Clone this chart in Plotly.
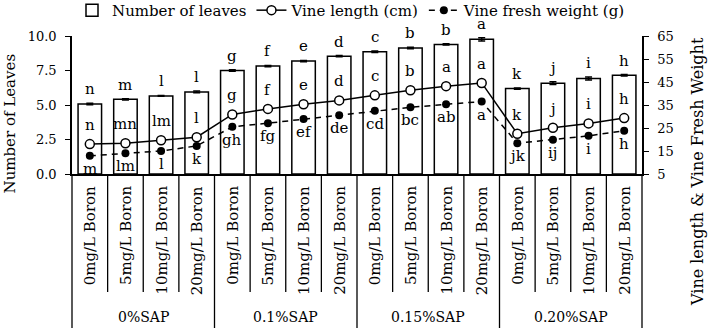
import plotly.graph_objects as go

# ---- data ----
sap_groups = ["0%SAP", "0.1%SAP", "0.15%SAP", "0.20%SAP"]
boron_levels = ["0mg/L Boron", "5mg/L Boron", "10mg/L Boron", "20mg/L Boron"]

leaves = [5.07, 5.41, 5.66, 5.95, 7.50, 7.82, 8.18, 8.54,
          8.86, 9.13, 9.39, 9.76, 6.19, 6.58, 6.92, 7.16]
leaves_err = [0.06, 0.05, 0.03, 0.06, 0.06, 0.05, 0.05, 0.04,
              0.06, 0.05, 0.04, 0.12, 0.04, 0.10, 0.10, 0.05]
vine_length = [18.0, 18.4, 19.7, 21.0, 30.9, 33.3, 35.3, 37.0,
               39.2, 41.4, 43.2, 44.6, 22.5, 25.1, 27.0, 29.3]
fresh_weight = [12.9, 14.0, 15.0, 17.2, 25.5, 27.1, 28.9, 30.5,
                32.5, 34.0, 35.3, 36.5, 18.4, 19.9, 21.6, 23.8]

letters_leaves = ["n", "m", "l", "l", "g", "f", "e", "d",
                  "c", "b", "b", "a", "k", "j", "i", "h"]
letters_length = ["n", "mn", "lm", "l", "g", "f", "e", "d",
                  "c", "b", "a", "a", "k", "j", "i", "h"]
letters_weight = ["m", "lm", "l", "k", "gh", "fg", "ef", "de",
                  "cd", "bc", "ab", "a", "jk", "ij", "i", "h"]

left_ticks = [0, 2.5, 5, 7.5, 10]
right_ticks = [5, 15, 25, 35, 45, 55, 65]

FONT = "DejaVu Serif"

categories = [(s, b) for s in sap_groups for b in boron_levels]
xpos = list(range(len(categories)))

fig = go.Figure()
fig.add_trace(go.Bar(
    x=xpos, y=leaves, name="Number of leaves", width=0.66,
    marker=dict(color="white", line=dict(color="black", width=1.5)),
    error_y=dict(type="data", array=leaves_err, color="black", thickness=1.5, width=3.5),
))
fig.add_trace(go.Scatter(
    x=xpos, y=vine_length, name="Vine length (cm)", yaxis="y2", mode="lines+markers",
    line=dict(color="black", width=1.5),
    marker=dict(symbol="circle", size=9, color="white", line=dict(color="black", width=1.5)),
))
fig.add_trace(go.Scatter(
    x=xpos, y=fresh_weight, name="Vine fresh weight (g)", yaxis="y2", mode="lines+markers",
    line=dict(color="black", width=1.5, dash="6px,5px"),
    marker=dict(symbol="circle", size=8, color="black"),
))

ann = []
for i in xpos:
    ann.append(dict(x=i, y=leaves[i] + leaves_err[i], xref="x", yref="y", text=letters_leaves[i],
                    showarrow=False, yanchor="middle", yshift=14, font=dict(size=15)))
    ann.append(dict(x=i, y=vine_length[i], xref="x", yref="y2", text=letters_length[i],
                    showarrow=False, yanchor="middle", yshift=19, font=dict(size=15)))
    ann.append(dict(x=i, y=fresh_weight[i], xref="x", yref="y2", text=letters_weight[i],
                    showarrow=False, yanchor="middle", yshift=-13, font=dict(size=15)))
    ann.append(dict(x=i, y=0, xref="x", yref="paper", text=categories[i][1], textangle=-90,
                    showarrow=False, yanchor="top", yshift=-10, font=dict(size=15)))

n_b = len(boron_levels)
for g, s in enumerate(sap_groups):
    ann.append(dict(x=g * n_b + (n_b - 1) / 2, y=0, xref="x", yref="paper", text=s,
                    showarrow=False, yanchor="middle", yshift=-143, font=dict(size=14)))

ann.append(dict(x=0, y=0.366, xref="paper", yref="paper", text="Number of Leaves", textangle=-90,
                showarrow=False, xanchor="center", yanchor="middle", xshift=-62,
                font=dict(size=15)))
ann.append(dict(x=1, y=0.0145, xref="paper", yref="paper", text="Vine length & Vine Fresh Weight",
                textangle=-90, showarrow=False, xanchor="center", yanchor="middle", xshift=56,
                font=dict(size=16)))

shapes = []
for k in range(1, len(categories)):
    is_group = k % n_b == 0
    shapes.append(dict(type="line", xref="x", yref="paper", x0=k - 0.5, x1=k - 0.5,
                       y0=0, y1=-1.116 if is_group else -0.855,
                       line=dict(color="black", width=1.3)))
for xp in (0, 1):
    shapes.append(dict(type="line", xref="paper", yref="paper", x0=xp, x1=xp,
                       y0=0, y1=-1.116, line=dict(color="black", width=1.3)))

fig.update_layout(
    width=708, height=331,
    margin=dict(l=72, r=66, t=36, b=157, autoexpand=False),
    paper_bgcolor="white", plot_bgcolor="white",
    font=dict(family=FONT, color="black", size=15),
    showlegend=True,
    legend=dict(orientation="h", x=0.0, xanchor="left", y=1.305, yanchor="top",
                font=dict(size=15), itemwidth=30, tracegroupgap=0,
                bgcolor="rgba(0,0,0,0)"),
    bargap=0.34,
    xaxis=dict(range=[-0.5, len(categories) - 0.5], showticklabels=False, ticks="",
               showline=True, linecolor="black", linewidth=1.5, showgrid=False, zeroline=False),
    yaxis=dict(range=[0, 10], tickvals=left_ticks, tickformat=".1f", ticks="outside",
               ticklen=5, tickcolor="black", showline=True, linecolor="black", linewidth=1.5,
               showgrid=False, zeroline=False, tickfont=dict(size=13), ticklabelstandoff=6,
               automargin=False),
    yaxis2=dict(range=[5, 65], tickvals=right_ticks, overlaying="y", side="right",
                ticks="outside", ticklen=5, tickcolor="black", showline=True, linecolor="black",
                linewidth=1.5, showgrid=False, zeroline=False, tickfont=dict(size=13),
                ticklabelstandoff=6, automargin=False),
    annotations=ann, shapes=shapes,
)

fig.write_html("out.html", config={"displayModeBar": False},
               post_script="document.body.style.margin='0';")
